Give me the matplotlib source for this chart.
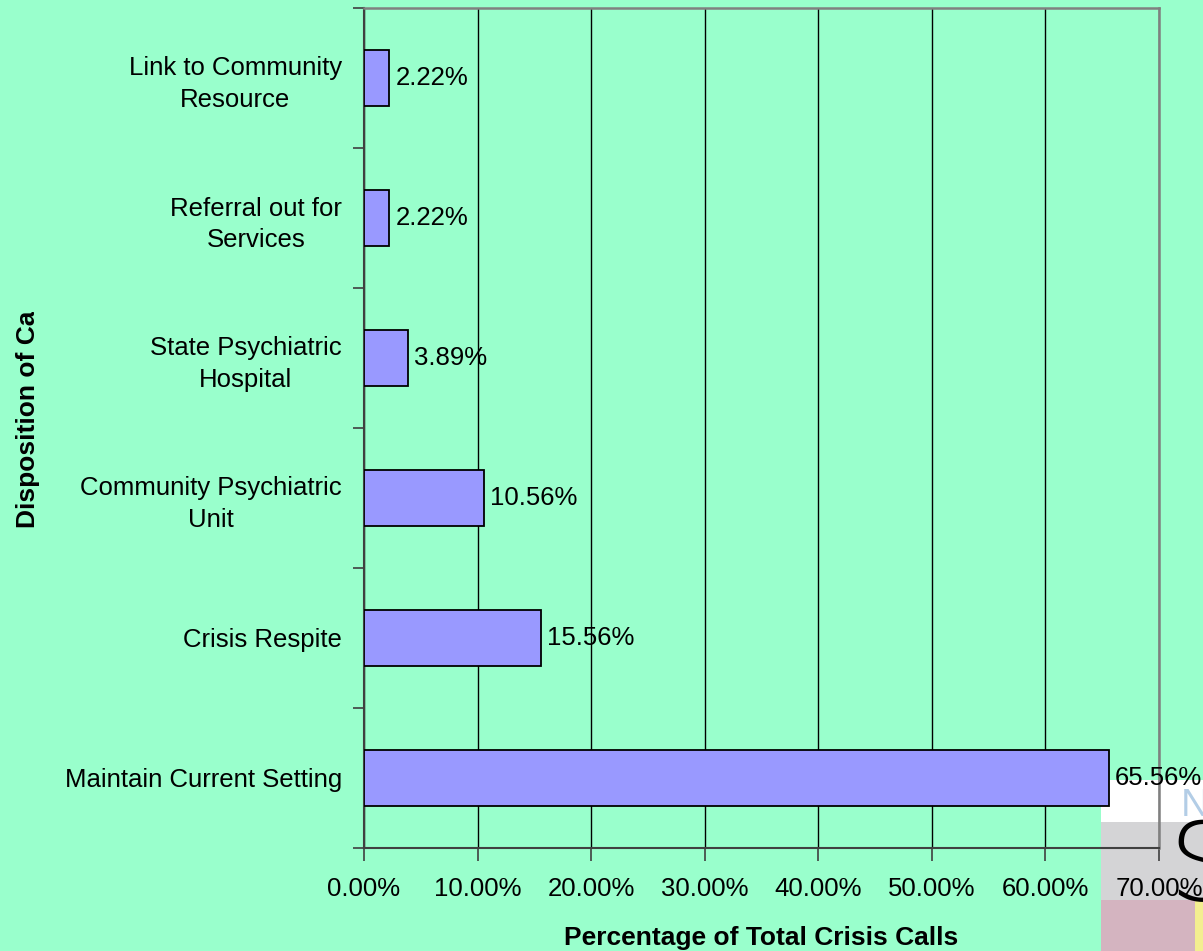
import matplotlib
matplotlib.use('Agg')
import matplotlib.pyplot as plt
from matplotlib import patches, transforms

#=====================================================
# Data
#-----------------------------------------------------
categories = ['Maintain Current Setting', 'Crisis Respite',
              'Community Psychiatric\nUnit', 'State Psychiatric\nHospital',
              'Referral out for\nServices', 'Link to Community\nResource']
percents = [65.56, 15.56, 10.56, 3.89, 2.22, 2.22]
x_ticks = [0, 10, 20, 30, 40, 50, 60, 70]

bg = '#99FFCC'
bar_color = '#9999FF'
W, H = 1203, 951

plt.rcParams['font.family'] = ['Liberation Sans', 'DejaVu Sans']
plt.rcParams['font.size'] = 18.5

fig = plt.figure(figsize=(W / 100, H / 100), dpi=100, facecolor=bg)

# logo fragment in the lower right corner (behind the axes)
def px_rect(x0, y0, x1, y1, color):
    fig.patches.append(patches.Rectangle((x0 / W, 1 - y1 / H), (x1 - x0) / W, (y1 - y0) / H,
                                         transform=fig.transFigure, fc=color, ec='none',
                                         zorder=-5))

px_rect(1101, 780, 1203, 822, 'white')
px_rect(1101, 822, 1203, 900, '#D4D4D6')
px_rect(1101, 900, 1195, 951, '#D4B4C0')
px_rect(1195, 900, 1203, 951, '#F3EE90')
fig.text(1181 / W, 1 - 816 / H, 'N', color='#B3CDE6', fontsize=28,
         ha='left', va='baseline', zorder=-4)
fig.text(1168 / W, 1 - 900 / H, 'S', color='black', fontsize=78,
         family='DejaVu Sans', fontweight='light', ha='left', va='baseline', zorder=-4)

ax = fig.add_axes([364 / W, 1 - 848 / H, (1159 - 364) / W, 840 / H])
ax.set_facecolor('none')

ypos = list(range(len(categories)))
ax.barh(ypos, percents, height=0.4, color=bar_color, edgecolor='black', linewidth=1.3, zorder=3)
for y, v in zip(ypos, percents):
    ax.annotate('{:.2f}%'.format(v), (v, y), xytext=(4.5, 0), textcoords='offset points',
                ha='left', va='center', fontsize=18.5, annotation_clip=False, zorder=4)

ax.set_xlim(0, 70)
ax.set_ylim(-0.5, len(categories) - 0.5)
ax.set_xticks(x_ticks)
ax.set_xticklabels(['{:.2f}%'.format(t) for t in x_ticks])
ax.xaxis.grid(True, color='black', linewidth=1.0, zorder=1)
ax.set_axisbelow(True)

# category ticks sit on the boundaries, labels in the middle
ax.set_yticks([i - 0.5 for i in range(len(categories) + 1)])
ax.set_yticklabels([])
ax.set_yticks(ypos, minor=True)
ax.set_yticklabels(categories, minor=True, ha='right', multialignment='center',
                   linespacing=1.4)
ax.tick_params(axis='y', which='minor', length=0, pad=16)
ax.tick_params(axis='y', which='major', length=8, width=1.2, color='#404040', direction='out')
ax.tick_params(axis='x', length=9, width=1.2, color='#404040', pad=12)

for s in ('top', 'right'):
    ax.spines[s].set_color('#808080')
    ax.spines[s].set_linewidth(1.8)
for s in ('left', 'bottom'):
    ax.spines[s].set_color('#404040')
    ax.spines[s].set_linewidth(1.5)

ax.set_xlabel('Percentage of Total Crisis Calls', fontweight='bold', fontsize=19, labelpad=18)

ylab = fig.text(28 / W, 1 - 528 / H, 'Disposition of Calls', rotation=90, fontweight='bold',
                fontsize=19, ha='center', va='bottom')
ylab.set_clip_box(transforms.Bbox.from_extents(0, 0, W, H - 312))
ylab.set_clip_on(True)

fig.savefig('out.png', dpi=100, facecolor=bg)
